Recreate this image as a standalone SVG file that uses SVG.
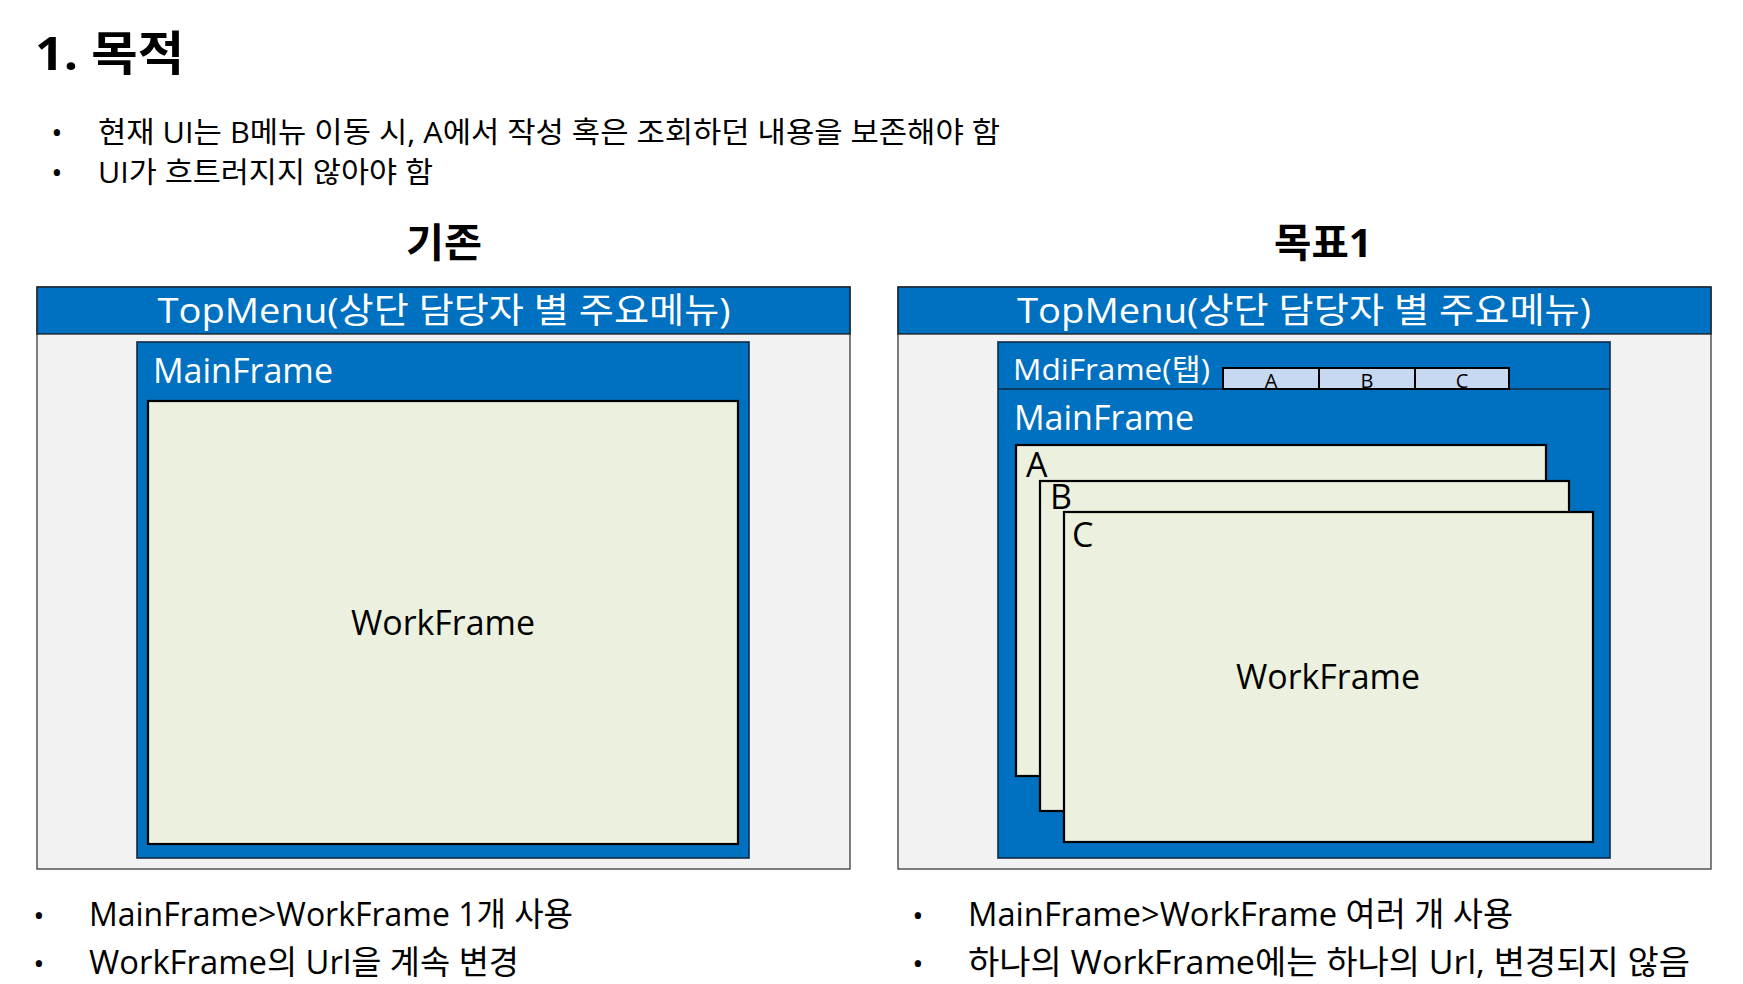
<svg xmlns="http://www.w3.org/2000/svg" width="1743" height="984" viewBox="0 0 1743 984">
<style>
text{font-family:'Open Sans','Noto Sans CJK KR',sans-serif;fill:#000}
.b{font-weight:bold}
.w{fill:#fff}
.panel{fill:#F2F2F2;stroke:#3a3a3a;stroke-width:1.3}
.bar{fill:#0070C0;stroke:#1a1a1a;stroke-width:1.3}
.blue{fill:#0070C0;stroke:#0d2a45;stroke-width:1.6}
.wf{fill:#EBF0DF;stroke:#000;stroke-width:2.2}
.tab{fill:#C6D9F1;stroke:#000;stroke-width:2}
.bul{font-size:30px;text-anchor:middle}
.mid{text-anchor:middle}
</style>
<rect width="1743" height="984" fill="#fff"/>
<g id="header">
<text class="b" x="35" y="70" font-size="47" textLength="149" lengthAdjust="spacingAndGlyphs">1. 목적</text>
<text class="bul" x="57" y="143">•</text>
<text x="98" y="143" font-size="29" textLength="902" lengthAdjust="spacingAndGlyphs">현재 UI는 B메뉴 이동 시, A에서 작성 혹은 조회하던 내용을 보존해야 함</text>
<text class="bul" x="57" y="183">•</text>
<text x="98" y="183" font-size="29" textLength="335" lengthAdjust="spacingAndGlyphs">UI가 흐트러지지 않아야 함</text>
</g>
<g id="left">
<text class="b mid" x="444" y="257" font-size="40" textLength="76" lengthAdjust="spacingAndGlyphs">기존</text>
<rect class="panel" x="37" y="287" width="813" height="582"/>
<rect class="bar" x="37" y="287" width="813" height="47"/>
<text class="w mid" x="444" y="323" font-size="35" textLength="573" lengthAdjust="spacingAndGlyphs">TopMenu(상단 담당자 별 주요메뉴)</text>
<g id="left-mainframe">
<rect class="blue" x="137" y="342" width="612" height="516"/>
<text class="w" x="153" y="383" font-size="35" textLength="180" lengthAdjust="spacingAndGlyphs">MainFrame</text>
</g>
<g id="left-workframe">
<rect class="wf" x="148" y="401" width="590" height="443"/>
<text class="mid" x="443" y="635" font-size="35" textLength="184" lengthAdjust="spacingAndGlyphs">WorkFrame</text>
</g>
<text class="bul" x="39" y="926">•</text>
<text x="89" y="926" font-size="33" textLength="484" lengthAdjust="spacingAndGlyphs">MainFrame&gt;WorkFrame 1개 사용</text>
<text class="bul" x="39" y="974">•</text>
<text x="89" y="974" font-size="33" textLength="430" lengthAdjust="spacingAndGlyphs">WorkFrame의 Url을 계속 변경</text>
</g>
<g id="right">
<text class="b mid" x="1323" y="257" font-size="40" textLength="98" lengthAdjust="spacingAndGlyphs">목표1</text>
<rect class="panel" x="898" y="287" width="813" height="582"/>
<rect class="bar" x="898" y="287" width="813" height="47"/>
<text class="w mid" x="1304" y="323" font-size="35" textLength="574" lengthAdjust="spacingAndGlyphs">TopMenu(상단 담당자 별 주요메뉴)</text>
<g id="mdiframe">
<rect class="blue" x="998" y="342" width="612" height="516"/>
<line x1="998" y1="389" x2="1610" y2="389" stroke="#0d2a45" stroke-width="1.6"/>
<text class="w" x="1013" y="380" font-size="30" textLength="197" lengthAdjust="spacingAndGlyphs">MdiFrame(탭)</text>
<rect class="tab" x="1223" y="368" width="96" height="21"/>
<rect class="tab" x="1319" y="368" width="96" height="21"/>
<rect class="tab" x="1415" y="368" width="94" height="21"/>
<text class="mid" x="1271" y="388" font-size="20">A</text>
<text class="mid" x="1367" y="388" font-size="20">B</text>
<text class="mid" x="1462" y="388" font-size="20">C</text>
<text class="w" x="1014" y="430" font-size="35" textLength="180" lengthAdjust="spacingAndGlyphs">MainFrame</text>
</g>
<g id="frame-a">
<rect class="wf" x="1016" y="445" width="530" height="331"/>
<text x="1026" y="477" font-size="34">A</text>
</g>
<g id="frame-b">
<rect class="wf" x="1040" y="481" width="529" height="330"/>
<text x="1050" y="509" font-size="34">B</text>
</g>
<g id="frame-c">
<rect class="wf" x="1064" y="512" width="529" height="330"/>
<text x="1072" y="547" font-size="34">C</text>
<text class="mid" x="1328" y="689" font-size="35" textLength="184" lengthAdjust="spacingAndGlyphs">WorkFrame</text>
</g>
<text class="bul" x="918" y="926">•</text>
<text x="968" y="926" font-size="33" textLength="545" lengthAdjust="spacingAndGlyphs">MainFrame&gt;WorkFrame 여러 개 사용</text>
<text class="bul" x="918" y="974">•</text>
<text x="968" y="974" font-size="33" textLength="722" lengthAdjust="spacingAndGlyphs">하나의 WorkFrame에는 하나의 Url, 변경되지 않음</text>
</g>
</svg>
